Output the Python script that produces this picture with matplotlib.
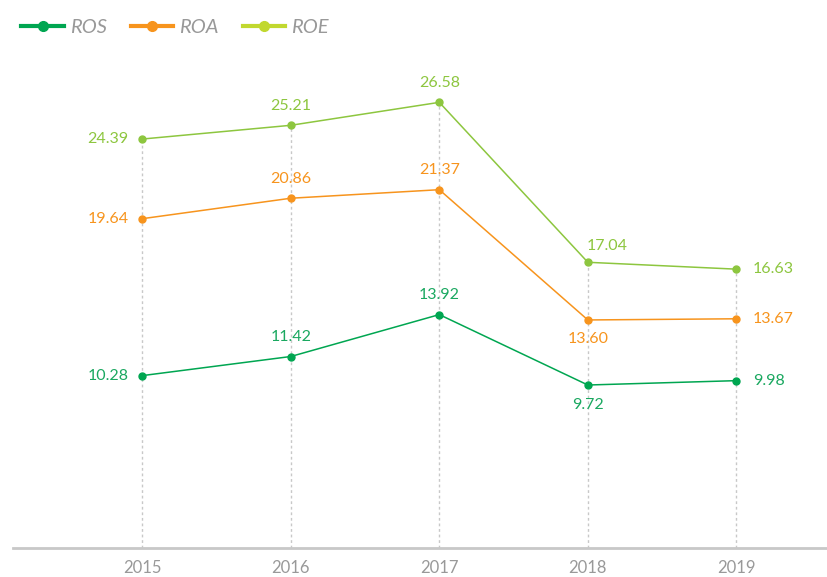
import matplotlib
matplotlib.use("Agg")
import matplotlib.pyplot as plt
from matplotlib.lines import Line2D

plt.rcParams['font.family'] = ['Lato', 'DejaVu Sans']

# chart data
years = [2015, 2016, 2017, 2018, 2019]
ros = [10.28, 11.42, 13.92, 9.72, 9.98]
roa = [19.64, 20.86, 21.37, 13.60, 13.67]
roe = [24.39, 25.21, 26.58, 17.04, 16.63]

series_names = ['ROS', 'ROA', 'ROE']
line_colors = ['#00a651', '#f7941d', '#8dc63f']
legend_colors = ['#00a651', '#f7941d', '#c1d82f']
label_colors = ['#1aa860', '#f7941d', '#8dc63f']

# where each value label sits relative to its point
label_place = {
    'ROS': ['left', 'above', 'above', 'below', 'right'],
    'ROA': ['left', 'above', 'above', 'below', 'right'],
    'ROE': ['left', 'above', 'above', 'above_r', 'right'],
}
offsets = {
    'left': ((-10, 0), 'right', 'center'),
    'right': ((12, 0), 'left', 'center'),
    'above': ((0, 9), 'center', 'bottom'),
    'above_r': ((14, 7), 'center', 'bottom'),
    'below': ((0, -9), 'center', 'top'),
}

fig = plt.figure(figsize=(8.27, 5.77), dpi=100)
ax = fig.add_axes([0.0157, 0.0503, 0.9843, 0.863])

# dotted guide lines from the axis up to the top series
tops = [max(v) for v in zip(ros, roa, roe)]
ax.vlines(years, 0, tops, colors='#c8c8c8', linestyles=(0, (2, 2)), linewidth=1, zorder=1)

for name, vals, lc, tc in zip(series_names, [ros, roa, roe], line_colors, label_colors):
    ax.plot(years, vals, color=lc, linewidth=1.1, marker='o', markersize=5, zorder=3)
    for x, y, place in zip(years, vals, label_place[name]):
        off, ha, va = offsets[place]
        ax.annotate(f'{y:.2f}', (x, y), xytext=off, textcoords='offset points',
                    ha=ha, va=va, color=tc, fontsize=11.5, zorder=4)

ax.set_xlim(2014.13, 2019.61)
ax.set_ylim(0, 29.7)
ax.set_yticks([])
ax.set_xticks(years)
ax.set_xticklabels([str(y) for y in years], color='#999999', fontsize=12)
ax.tick_params(axis='x', length=0, pad=9)
for s in ['top', 'right', 'left']:
    ax.spines[s].set_visible(False)
ax.spines['bottom'].set_color('#c8c8c8')
ax.spines['bottom'].set_linewidth(2)

handles = [Line2D([], [], color=c, linewidth=3, marker='o', markersize=7) for c in legend_colors]
leg = fig.legend(handles, series_names, loc='upper left', bbox_to_anchor=(0.004, 0.998),
                 ncol=3, frameon=False, handlelength=2.1, handletextpad=0.3,
                 columnspacing=1.2, prop={'style': 'italic', 'size': 14.5})
for t in leg.get_texts():
    t.set_color('#999999')

fig.savefig('out.png', dpi=100)
